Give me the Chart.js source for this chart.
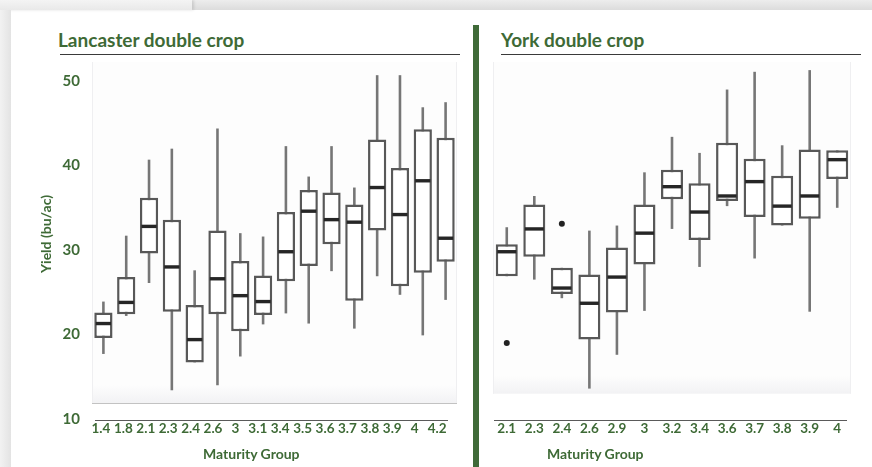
<!DOCTYPE html>
<html>
<head>
<meta charset="utf-8">
<script src="https://cdn.jsdelivr.net/npm/chart.js@4.4.1/dist/chart.umd.min.js"></script>
<style>
  html, body { margin: 0; padding: 0; background: #fff; }
  #page { position: relative; width: 872px; height: 467px; overflow: hidden; background: #fff; font-family: Lato, "Open Sans", sans-serif; }
  .abs { position: absolute; }
  .topband { left: 0; top: 0; width: 872px; height: 10px; background: linear-gradient(to bottom, #ededed, #dcdcdc); }
  .topband-left { left: 0; top: 0; width: 192px; height: 10px; background: linear-gradient(to bottom, #f4f4f4, #e9e9e9); box-shadow: 2px 0 3px rgba(0,0,0,0.12); }
  .leftshadow { left: 0; top: 10px; width: 11px; height: 457px; background: linear-gradient(to right, #f2f2f2, #e3e3e3); }
  .greenbar { left: 473px; top: 25px; width: 6px; height: 442px; background: #3f6a38; }
  .title { color: #3e6a36; font-weight: 700; font-size: 19px; white-space: nowrap; line-height: 1; }
  .rule { height: 1px; background: #3a3a3a; }
  .axisline { height: 1px; background: #5a5a5a; }
  .axtitle { color: #3e6a36; font-weight: 700; font-size: 14px; white-space: nowrap; line-height: 1; }
  canvas { position: absolute; top: 0; }
</style>
</head>
<body>
<div id="page">
  <div class="abs topband"></div>
  <div class="abs topband-left"></div>
  <div class="abs leftshadow"></div>
  <div class="abs greenbar"></div>

  <div class="abs title" style="left:58px; top:30px;">Lancaster double crop</div>
  <div class="abs rule" style="left:60px; top:54px; width:400px;"></div>
  <div class="abs title" style="left:501px; top:30px;">York double crop</div>
  <div class="abs rule" style="left:501px; top:54px; width:360px;"></div>

  <canvas id="lancaster" width="470" height="467" style="left:0;"></canvas>
  <canvas id="york" width="393" height="467" style="left:479px;"></canvas>

  <div class="abs axisline" style="left:95px; top:420px; width:353px;"></div>
  <div class="abs axisline" style="left:494px; top:420px; width:353px;"></div>

  <div class="abs axtitle" style="left:203px; top:447px;">Maturity Group</div>
  <div class="abs axtitle" style="left:547px; top:447px;">Maturity Group</div>
  <div class="abs axtitle" style="left:46px; top:234px; transform: translate(-50%, -50%) rotate(-90deg);">Yield (bu/ac)</div>
</div>

<script>
// Lancaster double crop: yield (bu/ac) by maturity group
const lancGroups = ['1.4','1.8','2.1','2.3','2.4','2.6','3','3.1','3.4','3.5','3.6','3.7','3.8','3.9','4','4.2'];
const lancLow    = [17.7, 22.2, 26.1, 13.4, 16.7, 14.0, 17.4, 21.2, 22.5, 21.3, 27.5, 20.7, 26.9, 24.7, 19.9, 24.1];
const lancQ1     = [19.6, 22.4, 29.6, 22.7, 16.7, 22.4, 20.4, 22.3, 26.3, 28.1, 30.7, 24.0, 32.3, 25.7, 27.3, 28.6];
const lancMedian = [21.3, 23.8, 32.8, 28.0, 19.4, 26.6, 24.6, 23.9, 29.8, 34.6, 33.6, 33.3, 37.4, 34.2, 38.2, 31.4];
const lancQ3     = [22.6, 26.8, 36.2, 33.6, 23.5, 32.3, 28.7, 27.0, 34.5, 37.1, 36.8, 35.4, 43.1, 39.7, 44.3, 43.3];
const lancHigh   = [23.9, 31.7, 40.7, 42.0, 27.6, 44.4, 32.0, 31.6, 42.3, 38.7, 42.3, 37.4, 50.7, 50.7, 46.9, 47.5];

// York double crop: yield (bu/ac) by maturity group
const yorkGroups = ['2.1','2.3','2.4','2.6','2.9','3','3.2','3.4','3.6','3.7','3.8','3.9','4'];
const yorkLow    = [26.9, 26.5, 24.3, 13.6, 17.6, 22.8, 32.5, 28.0, 35.2, 29.0, 32.9, 22.7, 35.0];
const yorkQ1     = [26.9, 29.2, 24.8, 19.4, 22.6, 28.3, 36.0, 31.2, 35.8, 33.9, 32.9, 33.7, 38.4];
const yorkMedian = [29.8, 32.5, 25.5, 23.7, 26.8, 32.0, 37.5, 34.5, 36.4, 38.1, 35.2, 36.4, 40.7];
const yorkQ3     = [30.7, 35.4, 27.9, 27.1, 30.3, 35.4, 39.5, 37.9, 42.7, 40.8, 38.8, 41.9, 41.8];
const yorkHigh   = [32.7, 36.4, 27.9, 32.3, 32.9, 39.2, 43.4, 41.5, 49.0, 51.1, 42.4, 51.3, 41.8];
const yorkOutlierGroups = ['2.1', '2.4'];
const yorkOutlierValues = [19.0, 33.1];

// Shared y range and tick values
const yMin = 10;
const yMax = 52.26;
const yTicks = [10, 20, 30, 40, 50];

const GREEN = '#3e6a36';
const tickFont = { family: 'Lato', weight: '700', size: 13.5 };

// Light plot backdrop behind the boxes
const backdropPlugin = {
  id: 'backdrop',
  beforeDatasetsDraw(chart, args, opts) {
    const { ctx, chartArea } = chart;
    const y = chart.scales.y;
    const bottom = y.getPixelForValue(opts.bottom);
    ctx.save();
    ctx.fillStyle = '#fdfdfd';
    ctx.fillRect(chartArea.left, chartArea.top, chartArea.right - chartArea.left, bottom - chartArea.top);
    const g = ctx.createLinearGradient(0, bottom - 18, 0, bottom);
    g.addColorStop(0, 'rgba(242,242,244,0)');
    g.addColorStop(1, 'rgba(242,242,244,1)');
    ctx.fillStyle = g;
    ctx.fillRect(chartArea.left, bottom - 18, chartArea.right - chartArea.left, 18);
    ctx.strokeStyle = '#efeff1';
    ctx.lineWidth = 1;
    ctx.beginPath();
    ctx.moveTo(chartArea.left + 0.5, chartArea.top);
    ctx.lineTo(chartArea.left + 0.5, bottom);
    ctx.moveTo(chartArea.right - 0.5, chartArea.top);
    ctx.lineTo(chartArea.right - 0.5, bottom);
    ctx.stroke();
    if (opts.baseLine) {
      ctx.strokeStyle = '#c2c2c2';
      ctx.beginPath();
      ctx.moveTo(chartArea.left, Math.round(bottom) + 0.5);
      ctx.lineTo(chartArea.right, Math.round(bottom) + 0.5);
      ctx.stroke();
    }
    ctx.restore();
  }
};

// Whiskers under the boxes, medians and outliers over them
const boxPlotPlugin = {
  id: 'boxStats',
  beforeDatasetsDraw(chart, args, opts) {
    const { ctx } = chart;
    const y = chart.scales.y;
    const meta = chart.getDatasetMeta(0);
    ctx.save();
    ctx.strokeStyle = '#767676';
    ctx.lineWidth = 2.6;
    meta.data.forEach((bar, i) => {
      ctx.beginPath();
      ctx.moveTo(bar.x, y.getPixelForValue(opts.low[i]));
      ctx.lineTo(bar.x, y.getPixelForValue(opts.high[i]));
      ctx.stroke();
    });
    ctx.restore();
  },
  afterDatasetsDraw(chart, args, opts) {
    const { ctx } = chart;
    const y = chart.scales.y;
    const meta = chart.getDatasetMeta(0);
    ctx.save();
    ctx.strokeStyle = '#262626';
    ctx.lineWidth = 3.4;
    meta.data.forEach((bar, i) => {
      const half = bar.width / 2 - 1.5;
      const py = y.getPixelForValue(opts.median[i]);
      ctx.beginPath();
      ctx.moveTo(bar.x - half, py);
      ctx.lineTo(bar.x + half, py);
      ctx.stroke();
    });
    ctx.fillStyle = '#222';
    (opts.outlierGroups || []).forEach((grp, k) => {
      const idx = opts.groups.indexOf(grp);
      const bar = meta.data[idx];
      ctx.beginPath();
      ctx.arc(bar.x, y.getPixelForValue(opts.outlierValues[k]), 3, 0, Math.PI * 2);
      ctx.fill();
    });
    ctx.restore();
  }
};

function boxDataset(q1, q3) {
  return {
    data: q1.map((v, i) => [v, q3[i]]),
    backgroundColor: '#ffffff',
    borderColor: '#585858',
    borderWidth: 2.5,
    borderSkipped: false,
    barPercentage: 0.8,
    categoryPercentage: 1.0,
    xAxisID: 'x',
    yAxisID: 'y'
  };
}

const yScaleBase = {
  min: yMin,
  max: yMax,
  bounds: 'data',
  grid: { display: false },
  border: { display: false },
  afterBuildTicks: (s) => { s.ticks = yTicks.map(v => ({ value: v })); }
};

// Lancaster panel
new Chart(document.getElementById('lancaster'), {
  type: 'bar',
  data: {
    labels: lancGroups,
    datasets: [boxDataset(lancQ1, lancQ3)]
  },
  options: {
    responsive: false,
    animation: false,
    layout: { padding: { top: 62, right: 13, left: 0, bottom: 0 } },
    plugins: {
      legend: { display: false },
      tooltip: { enabled: false },
      backdrop: { bottom: 11.9, baseLine: true },
      boxStats: { groups: lancGroups, low: lancLow, median: lancMedian, high: lancHigh }
    },
    scales: {
      x: { type: 'category', display: false },
      // label axis: group names sit on their own evenly spaced positions
      xt: {
        type: 'linear',
        position: 'bottom',
        bounds: 'data',
        offset: false,
        min: -0.4,
        max: 15.89,
        grid: { display: false, offset: false },
        border: { display: false },
        afterBuildTicks: (s) => { s.ticks = lancGroups.map((_, i) => ({ value: i })); },
        afterFit: (s) => { s.height = 48; },
        ticks: {
          callback: (v) => lancGroups[v],
          color: GREEN,
          font: tickFont,
          padding: -6,
          maxRotation: 0,
          autoSkip: false
        }
      },
      y: Object.assign({}, yScaleBase, {
        afterFit: (s) => { s.width = 92; },
        ticks: { color: GREEN, font: { family: 'Lato', weight: '700', size: 15 }, padding: 4 }
      })
    }
  },
  plugins: [backdropPlugin, boxPlotPlugin]
});

// York panel
new Chart(document.getElementById('york'), {
  type: 'bar',
  data: {
    labels: yorkGroups,
    datasets: [boxDataset(yorkQ1, yorkQ3)]
  },
  options: {
    responsive: false,
    animation: false,
    layout: { padding: { top: 62, right: 21, left: 14, bottom: 0 } },
    plugins: {
      legend: { display: false },
      tooltip: { enabled: false },
      backdrop: { bottom: 13.0, baseLine: false },
      boxStats: {
        groups: yorkGroups, low: yorkLow, median: yorkMedian, high: yorkHigh,
        outlierGroups: yorkOutlierGroups, outlierValues: yorkOutlierValues
      }
    },
    scales: {
      x: {
        type: 'category',
        grid: { display: false },
        border: { display: false },
        afterFit: (s) => { s.height = 48; },
        ticks: { color: GREEN, font: tickFont, padding: -6, maxRotation: 0, autoSkip: false }
      },
      y: Object.assign({}, yScaleBase, { display: false })
    }
  },
  plugins: [backdropPlugin, boxPlotPlugin]
});
</script>
</body>
</html>
